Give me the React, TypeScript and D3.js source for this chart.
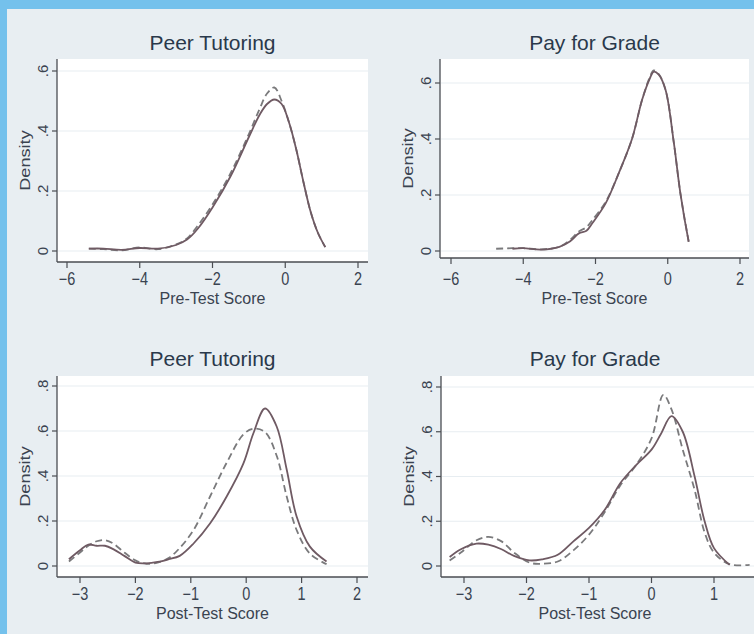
import React from 'react';
import * as d3 from 'd3';

// Pre-test, Peer Tutoring
const preTutorX = [-5.4, -5, -4.5, -4, -3.5, -3, -2.7, -2.4, -2, -1.5, -1, -0.7, -0.5, -0.3, -0.1, 0.1, 0.3, 0.5, 0.7, 0.9, 1.1];
const preTutorSolid = [0.008, 0.008, 0.004, 0.01, 0.008, 0.02, 0.038, 0.075, 0.145, 0.25, 0.38, 0.455, 0.49, 0.505, 0.49, 0.43, 0.34, 0.23, 0.13, 0.06, 0.013];
const preTutorDashed = [0.008, 0.006, 0.002, 0.012, 0.006, 0.022, 0.042, 0.085, 0.155, 0.26, 0.39, 0.475, 0.525, 0.545, 0.5, 0.43, 0.34, 0.23, 0.13, 0.06, 0.013];

// Pre-test, Pay for Grade
const prePayX = [-4.75, -4.3, -4, -3.5, -3.0, -2.7, -2.46, -2.25, -2.09, -1.72, -1.35, -0.99, -0.71, -0.5, -0.39, -0.25, -0.06, 0.17, 0.35, 0.58];
const prePaySolid = [null, 0.008, 0.01, 0.005, 0.015, 0.035, 0.063, 0.072, 0.099, 0.17, 0.28, 0.4, 0.54, 0.615, 0.64, 0.63, 0.575, 0.385, 0.206, 0.033];
const prePayDashed = [0.008, 0.01, 0.01, 0.006, 0.015, 0.04, 0.07, 0.085, 0.11, 0.175, 0.28, 0.4, 0.54, 0.62, 0.645, 0.632, 0.575, 0.385, 0.206, 0.033];

// Post-test, Peer Tutoring
const postTutorX = [-3.2, -3.0, -2.85, -2.7, -2.55, -2.4, -2.2, -2.0, -1.8, -1.6, -1.4, -1.2, -0.95, -0.65, -0.35, -0.05, 0.13, 0.34, 0.55, 0.73, 0.91, 1.15, 1.45];
const postTutorSolid = [0.03, 0.07, 0.095, 0.09, 0.09, 0.075, 0.045, 0.015, 0.012, 0.018, 0.03, 0.045, 0.1, 0.19, 0.31, 0.456, 0.59, 0.7, 0.62, 0.43, 0.22, 0.086, 0.02];
const postTutorDashed = [0.02, 0.06, 0.09, 0.11, 0.115, 0.1, 0.06, 0.025, 0.01, 0.015, 0.035, 0.08, 0.16, 0.31, 0.46, 0.585, 0.61, 0.595, 0.49, 0.31, 0.16, 0.055, 0.008];

// Post-test, Pay for Grade
const postPayX = [-3.23, -3.05, -2.8, -2.61, -2.4, -2.2, -1.95, -1.75, -1.5, -1.25, -1.0, -0.75, -0.5, -0.25, 0, 0.15, 0.19, 0.32, 0.5, 0.69, 0.85, 1.0, 1.25, 1.57];
const postPaySolid = [0.04, 0.075, 0.1, 0.095, 0.075, 0.045, 0.025, 0.03, 0.05, 0.11, 0.17, 0.25, 0.37, 0.45, 0.52, 0.59, null, 0.67, 0.6, 0.4, 0.2, 0.08, 0.005, null];
const postPayDashed = [0.025, 0.06, 0.115, 0.13, 0.11, 0.06, 0.015, 0.01, 0.02, 0.07, 0.14, 0.24, 0.36, 0.45, 0.57, null, 0.765, 0.7, 0.52, 0.34, 0.15, 0.06, 0.008, 0.005];

const preTicksX = [-6, -4, -2, 0, 2];
const postTutorTicksX = [-3, -2, -1, 0, 1, 2];
const postPayTicksX = [-3, -2, -1, 0, 1];
const preTicksY = [0, 0.2, 0.4, 0.6];
const postTicksY = [0, 0.2, 0.4, 0.6, 0.8];

const FONT = '"Liberation Sans", Arial, Helvetica, sans-serif';

interface PanelProps {
  title: string;
  xLabel: string;
  xs: number[];
  solid: (number | null)[];
  dashed: (number | null)[];
  xTicks: number[];
  yTicks: number[];
  xDomain: [number, number];
  xRange: [number, number];
  yDomain: [number, number];
  yRange: [number, number];
  left: number;
  right: number;
  top: number;
  axisY: number;
  titleY: number;
  tickBase: number;
  labelBase: number;
  labelRight?: number;
}

const fmtY = (v: number) => (v === 0 ? '0' : d3.format('.1f')(v).replace(/^0/, ''));
const fmtX = d3.format('d');

const Panel: React.FC<PanelProps> = (p) => {
  const x = d3.scaleLinear().domain(p.xDomain).range(p.xRange);
  const y = d3.scaleLinear().domain(p.yDomain).range(p.yRange);
  const toPts = (vals: (number | null)[]) =>
    p.xs.map((xv, i) => [xv, vals[i]] as [number, number | null]).filter((d) => d[1] != null) as [number, number][];
  const line = d3.line<[number, number]>()
    .x((d) => x(d[0]))
    .y((d) => y(d[1]))
    .curve(d3.curveCatmullRom.alpha(0.5));
  const mid = (p.left + (p.labelRight ?? p.right)) / 2;
  const yTickX = p.left - 14;
  const yTitleX = p.left - 32;

  return (
    <g>
      <rect x={p.left} y={p.top} width={p.right - p.left} height={p.axisY - p.top} fill="#ffffff" />
      {p.yTicks.map((t) => (
        <line key={'g' + t} x1={p.left + 1} x2={p.right} y1={y(t)} y2={y(t)} stroke="#e7edf1" strokeWidth={1} />
      ))}
      <text x={mid} y={p.titleY} textAnchor="middle" fontSize={21} fill="#2a394b" fontFamily={FONT}>
        {p.title}
      </text>
      <path d={line(toPts(p.dashed)) || ''} fill="none" stroke="#7a7a7c" strokeWidth={1.8} strokeDasharray="7,4" />
      <path d={line(toPts(p.solid)) || ''} fill="none" stroke="#6f5a63" strokeWidth={1.8} />
      <line x1={p.left} x2={p.right} y1={p.axisY} y2={p.axisY} stroke="#4a4d52" strokeWidth={1.3} />
      <line x1={p.left} x2={p.left} y1={p.top} y2={p.axisY} stroke="#4a4d52" strokeWidth={1.3} />
      {p.xTicks.map((t) => (
        <g key={'x' + t}>
          <line x1={x(t)} x2={x(t)} y1={p.axisY} y2={p.axisY + 6} stroke="#4a4d52" strokeWidth={1.2} />
          <g transform={`translate(${x(t)},${p.tickBase}) scale(1,1.22)`}>
            <text textAnchor="middle" fontSize={14.5} fill="#3a4350" fontFamily={FONT}>
              {fmtX(t)}
            </text>
          </g>
        </g>
      ))}
      {p.yTicks.map((t) => (
        <g key={'y' + t}>
          <line x1={p.left - 5} x2={p.left} y1={y(t)} y2={y(t)} stroke="#4a4d52" strokeWidth={1.2} />
          <text
            transform={`translate(${yTickX},${y(t)}) rotate(-90)`}
            textAnchor="middle"
            dy="0.35em"
            fontSize={15}
            fill="#3a4350"
            fontFamily={FONT}
          >
            {fmtY(t)}
          </text>
        </g>
      ))}
      <text x={mid} y={p.labelBase} textAnchor="middle" fontSize={16} fill="#3a4350" fontFamily={FONT}>
        {p.xLabel}
      </text>
      <text
        transform={`translate(${yTitleX},${(p.top + p.axisY) / 2}) rotate(-90) scale(1.25,1)`}
        textAnchor="middle"
        dy="0.35em"
        fontSize={14.5}
        fill="#3a4350"
        fontFamily={FONT}
      >
        Density
      </text>
    </g>
  );
};

export default function App() {
  return (
    <div style={{ position: 'absolute', left: 0, top: 0, width: 754, height: 634, overflow: 'hidden' }}>
      <svg width={754} height={634} style={{ display: 'block' }}>
        <rect x={0} y={0} width={754} height={634} fill="#74c1ec" />
        <rect x={7} y={9} width={747} height={625} fill="#e8eef2" />
        <Panel
          title="Peer Tutoring"
          xLabel="Pre-Test Score"
          xs={preTutorX}
          solid={preTutorSolid}
          dashed={preTutorDashed}
          xTicks={preTicksX}
          yTicks={preTicksY}
          xDomain={[-6, 2]}
          xRange={[67, 358]}
          yDomain={[0, 0.6]}
          yRange={[251, 71]}
          left={57}
          right={368}
          top={59}
          axisY={262}
          titleY={50}
          tickBase={285}
          labelBase={304}
        />
        <Panel
          title="Pay for Grade"
          xLabel="Pre-Test Score"
          xs={prePayX}
          solid={prePaySolid}
          dashed={prePayDashed}
          xTicks={preTicksX}
          yTicks={preTicksY}
          xDomain={[-6, 2]}
          xRange={[451, 740]}
          yDomain={[0, 0.6]}
          yRange={[251, 83]}
          left={440}
          right={749}
          top={59}
          axisY={258}
          titleY={50}
          tickBase={285}
          labelBase={304}
        />
        <Panel
          title="Peer Tutoring"
          xLabel="Post-Test Score"
          xs={postTutorX}
          solid={postTutorSolid}
          dashed={postTutorDashed}
          xTicks={postTutorTicksX}
          yTicks={postTicksY}
          xDomain={[-3, 2]}
          xRange={[80, 357]}
          yDomain={[0, 0.8]}
          yRange={[566, 386]}
          left={57}
          right={368}
          top={376}
          axisY={577}
          titleY={366}
          tickBase={600}
          labelBase={619}
        />
        <Panel
          title="Pay for Grade"
          xLabel="Post-Test Score"
          xs={postPayX}
          solid={postPaySolid}
          dashed={postPayDashed}
          xTicks={postPayTicksX}
          yTicks={postTicksY}
          xDomain={[-3, 1]}
          xRange={[464, 714]}
          yDomain={[0, 0.8]}
          yRange={[566, 387]}
          left={441}
          right={760}
          top={376}
          axisY={577}
          titleY={366}
          tickBase={600}
          labelBase={619}
          labelRight={749}
        />
      </svg>
    </div>
  );
}
